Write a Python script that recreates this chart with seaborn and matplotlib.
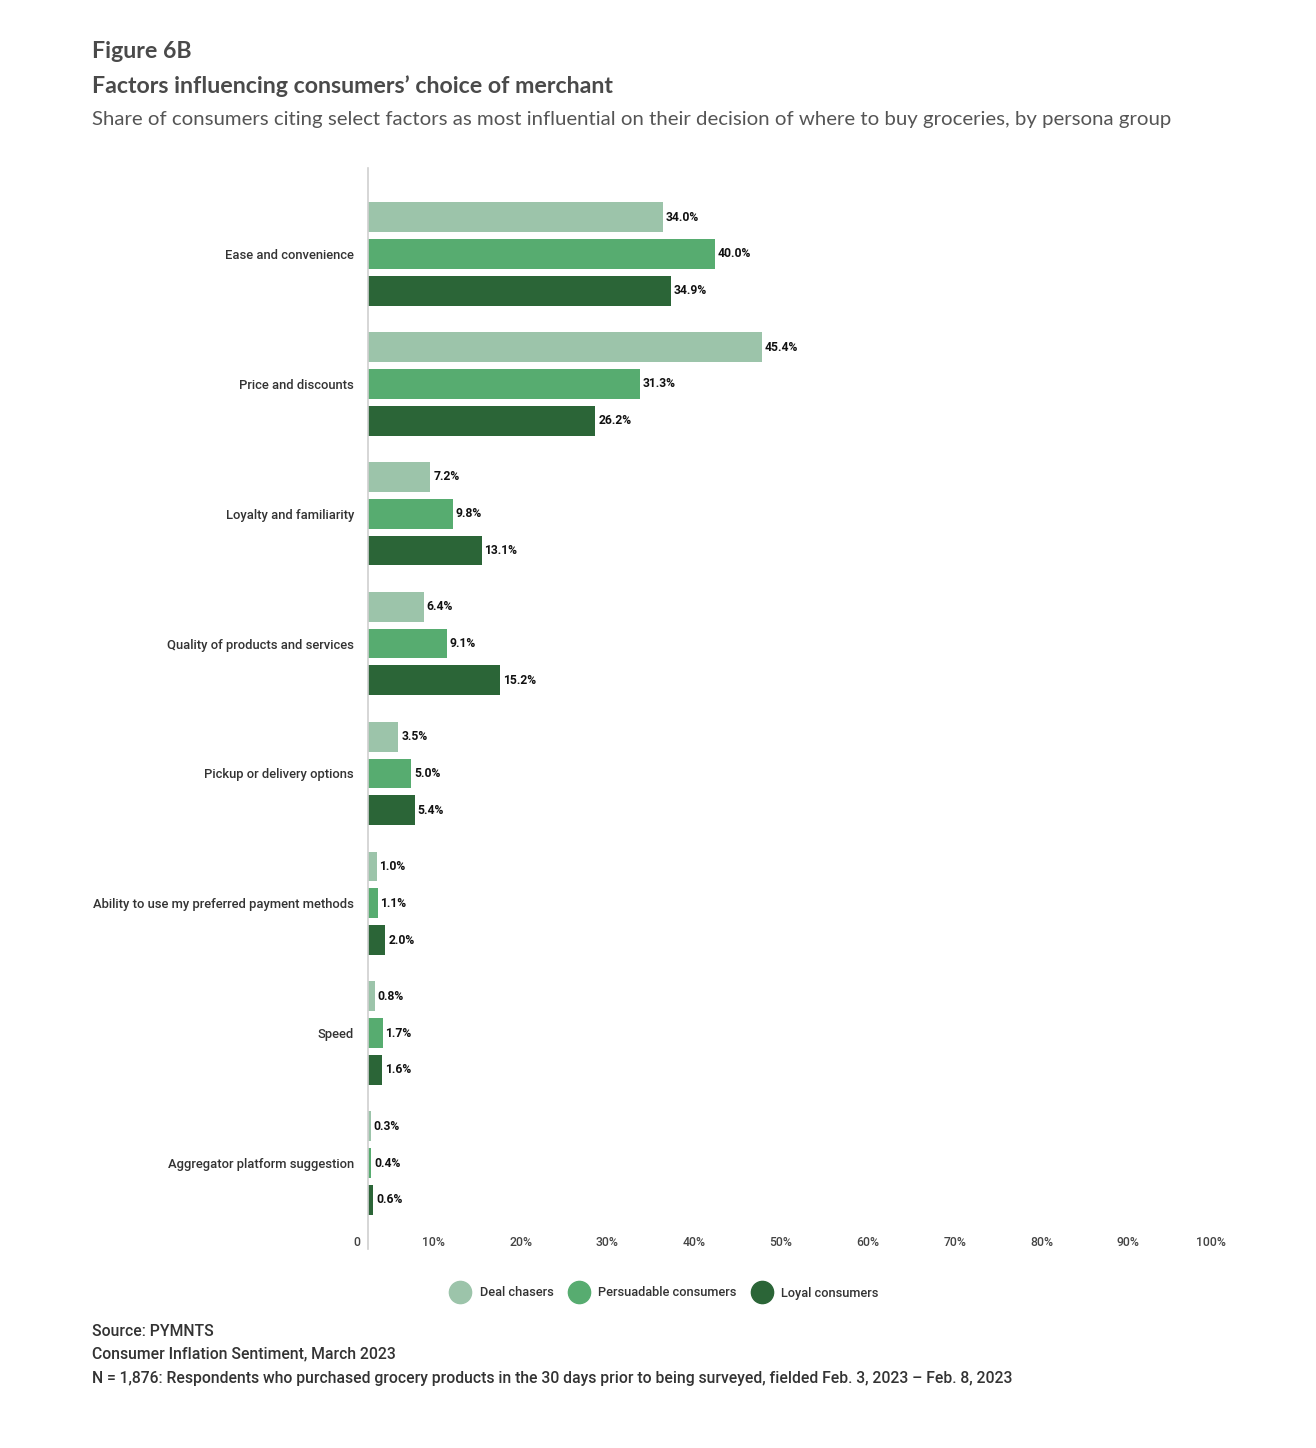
import matplotlib
matplotlib.use("agg")
import matplotlib.pyplot as plt
from matplotlib.lines import Line2D
from matplotlib.transforms import ScaledTranslation
import pandas as pd
import seaborn as sns

factors = [
    "Ease and convenience",
    "Price and discounts",
    "Loyalty and familiarity",
    "Quality of products and services",
    "Pickup or delivery options",
    "Ability to use my preferred payment methods",
    "Speed",
    "Aggregator platform suggestion",
]
groups = ["Deal chasers", "Persuadable consumers", "Loyal consumers"]
deal_chasers = [34.0, 45.4, 7.2, 6.4, 3.5, 1.0, 0.8, 0.3]
persuadable = [40.0, 31.3, 9.8, 9.1, 5.0, 1.1, 1.7, 0.4]
loyal = [34.9, 26.2, 13.1, 15.2, 5.4, 2.0, 1.6, 0.6]
x_ticks = [0, 10, 20, 30, 40, 50, 60, 70, 80, 90, 100]

colors = {"Deal chasers": "#9cc4aa", "Persuadable consumers": "#57ac70",
          "Loyal consumers": "#2b6537"}

rows = []
for g, vals in zip(groups, [deal_chasers, persuadable, loyal]):
    for f, v in zip(factors, vals):
        rows.append({"factor": f, "group": g, "value": v})
df = pd.DataFrame(rows)

sns.set_theme(style="white")
plt.rcParams["font.family"] = ["Roboto", "DejaVu Sans"]

W, H = 1316, 1448
fig = plt.figure(figsize=(W / 100, H / 100), dpi=100)
ax_l, ax_r, ax_t, ax_b = 368, 1236, 168, 1249
ax = fig.add_axes([ax_l / W, 1 - ax_b / H, (ax_r - ax_l) / W, (ax_b - ax_t) / H])

sns.barplot(df, x="value", y="factor", hue="group", order=factors,
            hue_order=groups, palette=colors, orient="h", width=0.85,
            gap=0.19, saturation=1, legend=False, linewidth=0, ax=ax)

for c in ax.containers:
    ax.bar_label(c, fmt="%.1f%%", padding=2, fontsize=8.7,
                 fontweight="bold", color="#111111")

ax.set_xlim(0, 100)
ax.set_ylim(7 + (ax_b - 1163) / 130, -(254 - ax_t) / 130)
ax.set_xlabel("")
ax.set_ylabel("")
sns.despine(ax=ax, top=True, right=True, bottom=True, left=False)
ax.spines["left"].set_color("#d0d0d0")
ax.spines["left"].set_linewidth(1.2)

ax.set_xticks(x_ticks)
ax.set_xticklabels(["0"] + [f"{t}%" for t in x_ticks[1:]])
ax.tick_params(axis="x", length=0, pad=0, labelsize=8.8, labelcolor="#444444")
ax.tick_params(axis="y", length=0, pad=10, labelsize=9.4, labelcolor="#333333")
for lab in ax.get_yticklabels():
    lab.set_fontweight("medium")
for i, lab in enumerate(ax.get_xticklabels()):
    lab.set_fontweight("medium")
    dx = -11 if i == 0 else (-25 if i == len(x_ticks) - 1 else -21)
    lab.set_transform(lab.get_transform()
                      + ScaledTranslation(dx / 100, 13 / 100, fig.dpi_scale_trans))

# legend with round markers
handles = [Line2D([], [], marker="o", linestyle="", markersize=16,
                  markerfacecolor=colors[g], markeredgecolor=colors[g]) for g in groups]
fig.legend(handles, groups, loc="center", bbox_to_anchor=(663 / W, 1 - 1293 / H),
           ncol=3, frameon=False, handletextpad=0.5,
           columnspacing=1.0, labelcolor="#333333",
           prop={"family": "Roboto", "weight": "medium", "size": 9.2})

# titles
tx = 92 / W
fig.text(tx, 1 - 52 / H, "Figure 6B", family="Lato", weight="bold",
         fontsize=16.7, color="#4a4a4a", va="center")
fig.text(tx, 1 - 86 / H, "Factors influencing consumers\u2019 choice of merchant",
         family="Lato", weight="bold", fontsize=16.7, color="#4a4a4a", va="center")
fig.text(tx, 1 - 120 / H,
         "Share of consumers citing select factors as most influential on their "
         "decision of where to buy groceries, by persona group",
         family="Lato", fontsize=14.7, color="#555555", va="center")

# source notes
notes = ["Source: PYMNTS", "Consumer Inflation Sentiment, March 2023",
         "N = 1,876: Respondents who purchased grocery products in the 30 days prior "
         "to being surveyed, fielded Feb. 3, 2023 \u2013 Feb. 8, 2023"]
for y, t in zip([1331, 1354, 1378], notes):
    fig.text(tx, 1 - y / H, t, family="Roboto", weight="medium", fontsize=11.3,
             color="#333333", va="center")

fig.savefig("out.png", dpi=100, facecolor="white")
